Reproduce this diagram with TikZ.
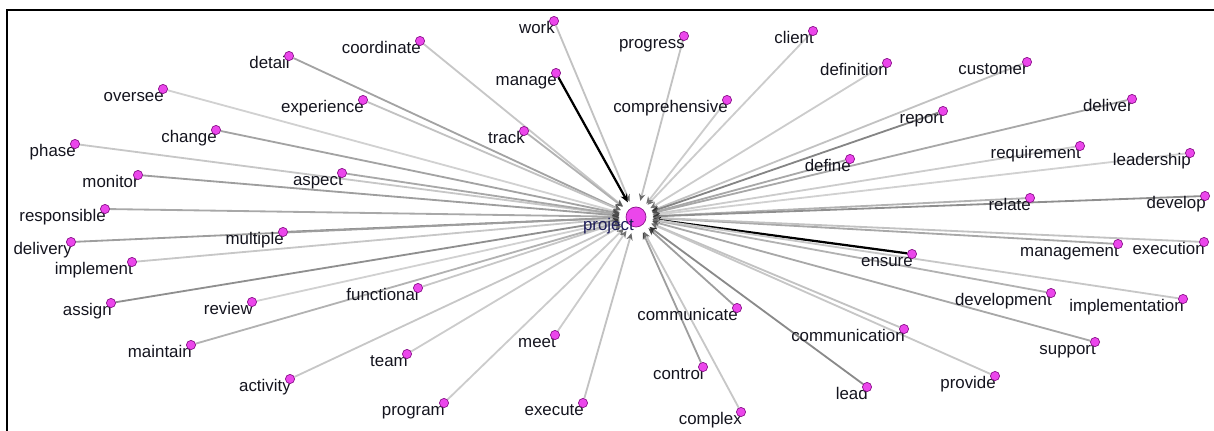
\documentclass[tikz,border=0pt]{standalone}
\usepackage{fontspec}
\setmainfont{Liberation Sans}
\usetikzlibrary{arrows.meta,backgrounds}
\definecolor{dotfill}{RGB}{235,70,235}
\definecolor{dotdraw}{RGB}{140,20,140}
\definecolor{txt}{RGB}{20,20,30}
\definecolor{ptxt}{RGB}{30,30,90}
\begin{document}
\begin{tikzpicture}[x=0.025cm,y=-0.025cm,
  wdot/.style={circle,fill=dotfill,draw=dotdraw,line width=0.5pt,inner sep=0pt,minimum size=0.23cm},
  hub/.style={circle,fill=dotfill,draw=dotdraw,line width=0.5pt,inner sep=0pt,minimum size=0.5cm},
  wlab/.style={font=\fontsize{12}{14}\selectfont,text=txt,inner sep=0pt,anchor=base east},
  edge/.style={line width=1.3pt,shorten >=0.16cm},
  strong/.style={line width=1.6pt,-{Stealth[length=6pt,width=5pt]},shorten >=0.16cm}]
\useasboundingbox (0,0) rectangle (1214,431);
\draw[line width=1.5pt] (7,10) rectangle (1220,440);
\node[hub] (p) at (636,217) {};
\node[wlab,text=ptxt] (pl) at (634,231) {project};
\foreach \n/\x/\y/\s in {
 work/554/21/24, progress/684/36/24, client/813/31/20, coordinate/420/41/22,
 detail/289/56/36, definition/887/63/20, customer/1027/62/24, manage/556/73/100,
 oversee/163/89/18, experience/363/100/24, comprehensive/727/100/20, deliver/1132/99/34,
 report/943/111/48, change/216/130/36, track/524/131/30, phase/75/144/22,
 requirement/1080/146/20, leadership/1190/153/18, define/850/159/34, monitor/138/175/38,
 aspect/342/173/34, relate/1030/198/30, develop/1205/196/44, responsible/105/209/34,
 multiple/283/232/46, delivery/71/242/38, management/1118/244/34, execution/1204/242/24,
 ensure/912/254/100, implement/132/262/22, functional/418/288/22, development/1051/293/30,
 implementation/1183/299/22, review/252/302/18, assign/111/303/44, communicate/737/308/38,
 communication/904/329/24, meet/555/335/20, support/1095/342/34, maintain/191/345/30,
 team/407/354/20, control/703/367/38, provide/995/376/22, activity/290/379/22,
 lead/867/387/46, program/444/403/20, execute/583/403/24, complex/741/412/22}
{
  \node[wlab] (\n-l) at (\x+1,\y+12.5) {\n};
  \node[wdot] (\n) at (\x,\y) {};
  \begin{scope}[on background layer]
    \ifnum\s=100
      \draw[strong,black] (\n) -- (p);
    \else
      \pgfmathtruncatemacro\tip{\s+35}
      \draw[edge,black!\s,-{Stealth[length=5pt,width=4.5pt,color=black!\tip]}] (\n) -- (p);
    \fi
  \end{scope}
}
\end{tikzpicture}
\end{document}
